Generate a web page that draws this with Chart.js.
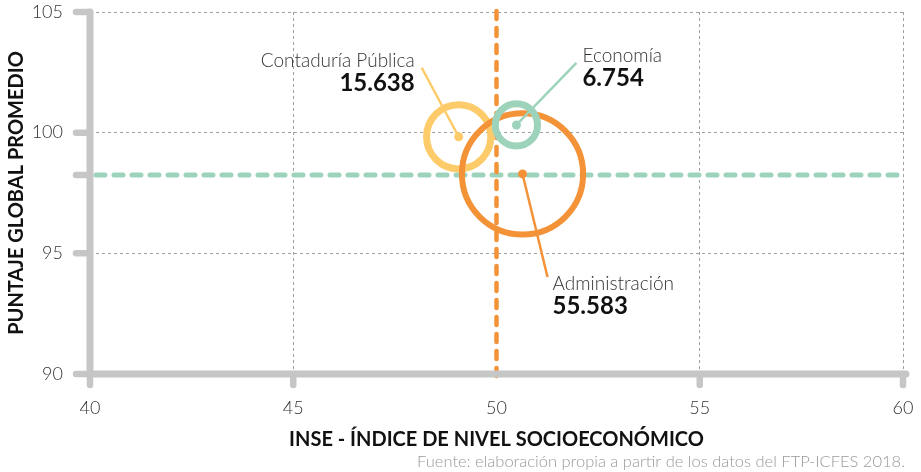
<!DOCTYPE html>
<html lang="es">
<head>
    <meta charset="UTF-8">
    <title>INSE vs Puntaje Global</title>
    <script src="https://cdn.jsdelivr.net/npm/chart.js@4.4.1/dist/chart.umd.min.js"></script>
    <style>
        * { margin: 0; padding: 0; box-sizing: border-box; }
        html, body { width: 921px; height: 472px; background: #fff; overflow: hidden; }
        .wrap { position: relative; width: 921px; height: 472px; }
    </style>
</head>
<body>
    <div class="wrap">
        <canvas id="chart" width="921" height="472"></canvas>
    </div>

    <script>
        // Data
        const programas = ['Contaduría Pública', 'Administración', 'Economía'];
        const inse = [49.07, 50.64, 50.49];
        const puntaje = [99.83, 98.29, 100.32];
        const estudiantes = [15638, 55583, 6754];
        const promedioInse = 50.0;
        const promedioPuntaje = 98.25;
        const xTicks = [40, 45, 50, 55, 60];
        const yTicks = [90, 95, 100, 105];
        const etiquetasNumero = ['15.638', '55.583', '6.754'];

        // Colours and label placement
        const colores = ['#fdcb69', '#f39237', '#9dd3bb'];
        const grosor = [7, 6, 7];
        const labelPos = [
            { lx: -37, ly: -69, tx: -44, ty: -70, align: 'right' },
            { lx: 25, ly: 103, tx: 30, ty: 116, align: 'left' },
            { lx: 60, ly: -62, tx: 66, ty: -63, align: 'left' }
        ];
        const GRIS = '#c6c6c6';
        const FONT = 'Lato, "Open Sans", sans-serif';

        const puntos = programas.map((p, i) => ({ x: inse[i], y: puntaje[i], r: Math.sqrt(estudiantes[i]) * 0.257 }));

        // reference lines under the bubbles
        const refLines = {
            id: 'refLines',
            beforeDatasetsDraw(chart) {
                const { ctx, scales: { x, y }, chartArea } = chart;
                ctx.save();
                ctx.lineCap = 'round';
                // horizontal average line
                ctx.strokeStyle = '#9dd3bb';
                ctx.lineWidth = 5;
                ctx.setLineDash([9, 9]);
                const py = y.getPixelForValue(promedioPuntaje);
                ctx.beginPath();
                ctx.moveTo(chartArea.left + 6, py);
                ctx.lineTo(chartArea.right, py);
                ctx.stroke();
                // vertical average line
                ctx.strokeStyle = '#f39237';
                ctx.lineWidth = 4.5;
                ctx.setLineDash([8, 9]);
                const px = x.getPixelForValue(promedioInse);
                ctx.beginPath();
                ctx.moveTo(px, chartArea.top - 1);
                ctx.lineTo(px, chartArea.bottom + 11);
                ctx.stroke();
                ctx.restore();
            }
        };

        // thick gray axes with rounded tick stubs
        const ejes = {
            id: 'ejes',
            afterDatasetsDraw(chart) {
                const { ctx, scales: { x, y }, chartArea } = chart;
                ctx.save();
                ctx.strokeStyle = GRIS;
                ctx.lineCap = 'round';
                ctx.lineWidth = 7;
                ctx.beginPath();
                ctx.moveTo(chartArea.left, chartArea.top);
                ctx.lineTo(chartArea.left, chartArea.bottom);
                ctx.lineTo(chartArea.right + 3, chartArea.bottom);
                ctx.stroke();
                ctx.lineWidth = 6.5;
                [...yTicks, promedioPuntaje].forEach(v => {
                    const py = y.getPixelForValue(v);
                    ctx.beginPath();
                    ctx.moveTo(chartArea.left - 14, py);
                    ctx.lineTo(chartArea.left, py);
                    ctx.stroke();
                });
                xTicks.forEach(v => {
                    if (v === promedioInse) return;
                    const px = x.getPixelForValue(v);
                    ctx.beginPath();
                    ctx.moveTo(px, chartArea.bottom);
                    ctx.lineTo(px, chartArea.bottom + 11);
                    ctx.stroke();
                });
                ctx.restore();
            }
        };

        // leader lines and labels
        const etiquetas = {
            id: 'etiquetas',
            afterDatasetsDraw(chart) {
                const { ctx } = chart;
                const meta = chart.getDatasetMeta(0);
                ctx.save();
                meta.data.forEach((pt, i) => {
                    const pos = labelPos[i];
                    ctx.strokeStyle = colores[i];
                    ctx.lineWidth = 2.5;
                    ctx.beginPath();
                    ctx.moveTo(pt.x, pt.y);
                    ctx.lineTo(pt.x + pos.lx, pt.y + pos.ly);
                    ctx.stroke();
                    ctx.textAlign = pos.align;
                    ctx.textBaseline = 'alphabetic';
                    ctx.fillStyle = '#333';
                    ctx.font = '300 19px ' + FONT;
                    ctx.fillText(programas[i], pt.x + pos.tx, pt.y + pos.ty);
                    ctx.fillStyle = '#111';
                    ctx.font = 'bold 24px ' + FONT;
                    ctx.fillText(etiquetasNumero[i], pt.x + pos.tx, pt.y + pos.ty + 24);
                });
                ctx.restore();
            }
        };

        new Chart(document.getElementById('chart'), {
            type: 'bubble',
            data: {
                datasets: [{
                    label: 'centros',
                    type: 'scatter',
                    data: puntos,
                    order: 0,
                    pointRadius: 4.5,
                    pointBackgroundColor: colores,
                    pointBorderWidth: 0
                }, {
                    label: 'programas',
                    data: puntos,
                    order: 1,
                    backgroundColor: 'rgba(0,0,0,0)',
                    borderColor: colores,
                    borderWidth: grosor
                }]
            },
            options: {
                responsive: false,
                animation: false,
                events: [],
                layout: { autoPadding: false, padding: { top: 12, right: 18, left: 0, bottom: 0 } },
                plugins: { legend: { display: false }, tooltip: { enabled: false } },
                scales: {
                    x: {
                        type: 'linear',
                        min: 40,
                        max: 60,
                        afterBuildTicks: s => { s.ticks = xTicks.map(v => ({ value: v })); },
                        afterFit: s => { s.height = 98; s.paddingLeft = 0; s.paddingRight = 0; },
                        grid: {
                            drawTicks: false,
                            color: c => (c.tick && (c.tick.value === 45 || c.tick.value === 55 || c.tick.value === 60)) ? '#a0a0a0' : 'rgba(0,0,0,0)',
                            lineWidth: 1
                        },
                        border: { display: false, dash: [3, 3] },
                        ticks: { padding: 23, color: '#333', font: { family: FONT, size: 18, weight: '300' } },
                        title: {
                            display: true,
                            text: 'INSE - ÍNDICE DE NIVEL SOCIOECONÓMICO',
                            color: '#111',
                            font: { family: FONT, size: 20, weight: 'bold' },
                            padding: { top: 20, bottom: 20 }
                        }
                    },
                    y: {
                        type: 'linear',
                        min: 90,
                        max: 105,
                        afterBuildTicks: s => { s.ticks = yTicks.map(v => ({ value: v })); },
                        afterFit: s => { s.width = 90; s.paddingTop = 0; s.paddingBottom = 0; },
                        grid: {
                            drawTicks: false,
                            color: c => (c.tick && c.tick.value > 90) ? '#a0a0a0' : 'rgba(0,0,0,0)',
                            lineWidth: 1
                        },
                        border: { display: false, dash: [3, 3] },
                        ticks: { padding: 27, color: '#333', font: { family: FONT, size: 18, weight: '300' } },
                        title: {
                            display: true,
                            text: 'PUNTAJE GLOBAL PROMEDIO',
                            color: '#111',
                            font: { family: FONT, size: 20, weight: 'bold' },
                            padding: { top: 5, bottom: 5 }
                        }
                    }
                }
            },
            plugins: [refLines, ejes, etiquetas, {
                id: 'fuente',
                afterDraw(chart) {
                    const { ctx } = chart;
                    ctx.save();
                    ctx.fillStyle = '#999';
                    ctx.font = '300 16.5px ' + FONT;
                    ctx.textAlign = 'right';
                    ctx.textBaseline = 'middle';
                    ctx.fillText('Fuente: elaboración propia a partir de los datos del FTP-ICFES 2018.', 905, 462);
                    ctx.restore();
                }
            }]
        });
    </script>
</body>
</html>
